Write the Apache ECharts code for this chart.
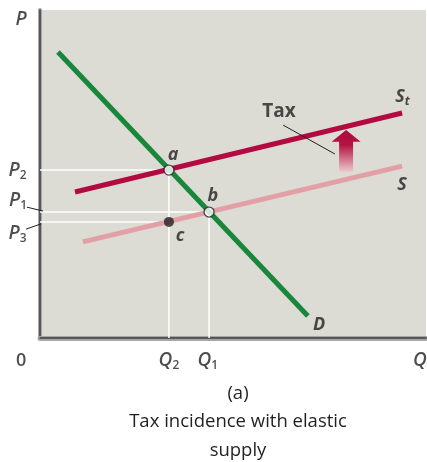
<!DOCTYPE html>
<html>
<head>
<meta charset="utf-8">
<script src="https://cdn.jsdelivr.net/npm/echarts@6/dist/echarts.min.js"></script>
<style>
html,body{margin:0;padding:0;background:#fff;}
#chart{width:427px;height:462px;}
</style>
</head>
<body>
<div id="chart"></div>
<script>
// ---- data (quantity 0-100 on x, price 0-100 on y) ----
const demand = [[4.66, 87.2], [69.4, 6.7]];
const supply = [[11.1, 29.3], [93.8, 52.4]];
const supplyTax = [[9.07, 44.5], [93.8, 68.6]];
const pointA = [33.4, 51.2];
const pointB = [43.8, 38.4];
const pointC = [33.4, 35.4];
const taxArrow = [79.3, 50.6, 59.8, 63.4]; // x, base, head base, tip
// leader lines: [x1, y1, x2, y2]
const leaders = [
  [63.0, 64.9, 76.4, 56.1],
  [-3.4, 39.9, 0.8, 38.7],
  [-3.6, 33.2, 0.3, 34.8]
];
// text annotations: [rich text, x, y]
const labelTexts = [
  ['{it|P}', -4.9, 97.0],
  ['{it|P}{sub|2}', -5.8, 51.0],
  ['{it|P}{sub|1}', -5.7, 42.0],
  ['{it|P}{sub|3}', -5.8, 31.8],
  ['{n|0}', -4.9, -7.0],
  ['{it|Q}{sub|2}', 33.4, -6.8],
  ['{it|Q}{sub|1}', 43.5, -6.8],
  ['{it|Q}', 98.4, -6.8],
  ['{bi|a}', 34.5, 55.8],
  ['{bi|b}', 44.8, 43.3],
  ['{bi|c}', 36.3, 31.1],
  ['{bi|D}', 72.3, 4.0],
  ['{bi|S}', 93.8, 46.6],
  ['{bi|S}{bsub|t}', 93.9, 73.5],
  ['{b|Tax}', 61.9, 68.9]
];
const captionLines = ['(a)', 'Tax incidence with elastic', 'supply'];

const FONT = '"Open Sans", Lato, sans-serif';
const TXT = '#231f20';
const rich = {
  it: {fontFamily: FONT, fontStyle: 'italic', fontWeight: 600, fontSize: 19, color: TXT},
  n: {fontFamily: FONT, fontWeight: 600, fontSize: 18, color: TXT},
  sub: {fontFamily: FONT, fontWeight: 600, fontSize: 12, color: TXT, padding: [10, 0, 0, 0]},
  bi: {fontFamily: FONT, fontStyle: 'italic', fontWeight: 'bold', fontSize: 18, color: TXT},
  bsub: {fontFamily: FONT, fontStyle: 'italic', fontWeight: 'bold', fontSize: 12, color: TXT, padding: [10, 0, 0, 0]},
  b: {fontFamily: FONT, fontWeight: 'bold', fontSize: 19, color: TXT}
};

function seg(data, color, width, z) {
  return {type: 'line', data: data, showSymbol: false, symbol: 'none', silent: true,
    clip: false, z: z, lineStyle: {color: color, width: width, cap: 'butt'}};
}

const chart = echarts.init(document.getElementById('chart'), null, {renderer: 'canvas'});
chart.setOption({
  animation: false,
  backgroundColor: '#ffffff',
  title: {
    text: captionLines.join('\n'),
    left: 233, top: 374, textAlign: 'center',
    textStyle: {fontFamily: FONT, fontWeight: 'normal', fontSize: 18.5, color: TXT, lineHeight: 28.5}
  },
  grid: {left: 40, top: 10, width: 386, height: 328, show: true,
    backgroundColor: '#dcdbd4', borderWidth: 0},
  xAxis: [
    {type: 'value', min: 0, max: 100, position: 'bottom', offset: 3,
      axisLine: {show: true, lineStyle: {color: '#a6a6a9', width: 5}},
      axisTick: {show: false}, axisLabel: {show: false}, splitLine: {show: false}},
    {type: 'value', min: 0, max: 100, position: 'top',
      axisLine: {show: true, lineStyle: {color: '#3c3c3c', width: 1.5}},
      axisTick: {show: false}, axisLabel: {show: false}, splitLine: {show: false}}
  ],
  yAxis: [
    {type: 'value', min: 0, max: 100, position: 'left', offset: 2,
      axisLine: {show: true, lineStyle: {color: '#a6a6a9', width: 4}},
      axisTick: {show: false}, axisLabel: {show: false}, splitLine: {show: false}},
    {type: 'value', min: 0, max: 100, position: 'right',
      axisLine: {show: true, lineStyle: {color: '#3c3c3c', width: 1.5}},
      axisTick: {show: false}, axisLabel: {show: false}, splitLine: {show: false}}
  ],
  series: [
    // guide lines
    seg([[0, pointA[1]], pointA], '#ffffff', 1.5, 1),
    seg([[0, pointB[1]], pointB], '#ffffff', 1.5, 1),
    seg([[0, pointC[1]], pointC], '#ffffff', 1.5, 1),
    seg([[pointA[0], 0], pointA], '#ffffff', 1.5, 1),
    seg([[pointB[0], 0], pointB], '#ffffff', 1.5, 1),
    // curves
    seg(supply, '#e2a0a6', 5, 2),
    seg(supplyTax, '#b30b41', 5, 2),
    seg(demand, '#18873c', 5, 3),
    // leader lines
    {
      type: 'custom', z: 4, silent: true, clip: false, data: leaders,
      renderItem: function (params, api) {
        const p1 = api.coord([api.value(0), api.value(1)]);
        const p2 = api.coord([api.value(2), api.value(3)]);
        return {type: 'line', shape: {x1: p1[0], y1: p1[1], x2: p2[0], y2: p2[1]},
          style: {stroke: '#231f20', lineWidth: 1}};
      }
    },
    // tax arrow
    {
      type: 'custom', z: 4, silent: true, clip: false,
      data: [taxArrow],
      renderItem: function (params, api) {
        const base = api.coord([api.value(0), api.value(1)]);
        const hb = api.coord([api.value(0), api.value(2)]);
        const tip = api.coord([api.value(0), api.value(3)]);
        const sw = 7, hw = 14.5;
        return {
          type: 'polygon',
          shape: {points: [
            [base[0] - sw, base[1]], [base[0] - sw, hb[1]], [base[0] - hw, hb[1]],
            [tip[0], tip[1]], [base[0] + hw, hb[1]], [base[0] + sw, hb[1]], [base[0] + sw, base[1]]
          ]},
          style: {
            fill: new echarts.graphic.LinearGradient(0, 0, 0, 1, [
              {offset: 0, color: '#ab0a3c'},
              {offset: 0.35, color: '#b3143f'},
              {offset: 1, color: '#eccbcf'}
            ])
          }
        };
      }
    },
    // equilibrium points
    {type: 'scatter', z: 5, silent: true, symbolSize: 10, data: [pointA, pointB],
      itemStyle: {color: '#ffffff', borderColor: '#231f20', borderWidth: 1.3}},
    {type: 'scatter', z: 5, silent: true, symbolSize: 10, data: [pointC],
      itemStyle: {color: '#231f20'}},
    // text labels
    {
      type: 'scatter', z: 6, silent: true, symbolSize: 0, clip: false,
      data: labelTexts.map(function (d) { return {name: d[0], value: [d[1], d[2]]}; }),
      label: {show: true, position: 'inside', formatter: function (p) { return p.name; }, rich: rich}
    }
  ]
});
</script>
</body>
</html>
